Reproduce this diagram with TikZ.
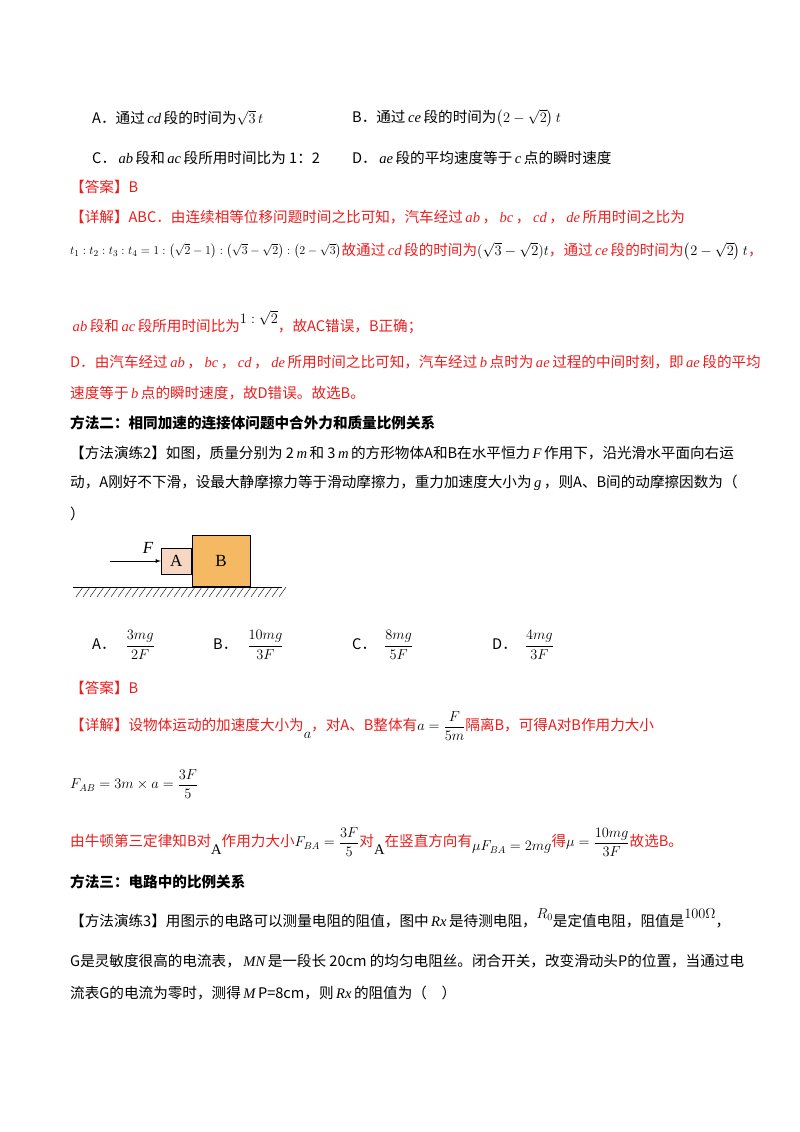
\documentclass[tikz,border=0pt]{standalone}
\usepackage{amsmath}
\usepackage{fontspec}
\setmainfont{Noto Sans CJK SC}
\newfontfamily\tnr{Liberation Serif}
\definecolor{ans}{RGB}{235,30,30}
\definecolor{boxA}{RGB}{248,214,196}
\definecolor{boxB}{RGB}{245,185,100}
\newcommand{\mi}[1]{\hspace{2.5pt}{\tnr\itshape #1}\hspace{2.5pt}}
\begin{document}
\begin{tikzpicture}[x=1pt,y=-1pt,
  tx/.style={anchor=west,inner sep=0pt,font=\fontsize{14.6}{17}\selectfont},
  rd/.style={tx,text=ans},
  bd/.style={tx,font=\fontsize{14.6}{17}\selectfont\bfseries}]
\useasboundingbox[fill=white] (0,0) rectangle (800,1132);
\node[tx] (qa) at (92,118) {A．通过\mi{cd}段的时间为$\sqrt{3}\,t$};
\node[tx] (qb) at (352,118) {B．通过\mi{ce}段的时间为$\left(2-\sqrt{2}\right)t$};
\node[tx] (qc) at (92,158) {C．\mi{ab}段和\mi{ac}段所用时间比为 1：2};
\node[tx] (qd) at (352,158) {D．\mi{ae}段的平均速度等于\mi{c}点的瞬时速度};
\node[rd] (an1) at (70,187) {【答案】B};
\node[rd] (ex1) at (70,217) {【详解】ABC．由连续相等位移问题时间之比可知，汽车经过\mi{ab}，\mi{bc}，\mi{cd}，\mi{de}所用时间之比为};
\node[tx,font=\fontsize{12.5}{14}\selectfont] (fm) at (70,251) {$t_1:t_2:t_3:t_4=1:\left(\sqrt{2}-1\right):\left(\sqrt{3}-\sqrt{2}\right):\left(2-\sqrt{3}\right)$};
\node[rd] (ex2) at (fm.east) [anchor=west] {故通过\mi{cd}段的时间为\textcolor{black}{$(\sqrt{3}-\sqrt{2})t$}，通过\mi{ce}段的时间为\textcolor{black}{$\left(2-\sqrt{2}\right)t$}，};
\node[rd] (ex3) at (70,322) {\mi{ab}段和\mi{ac}段所用时间比为\textcolor{black}{\raisebox{8pt}{$1:\sqrt{2}$}}，故AC错误，B正确；};
\node[rd] (ex4) at (70,362) {D．由汽车经过\mi{ab}，\mi{bc}，\mi{cd}，\mi{de}所用时间之比可知，汽车经过\mi{b}点时为\mi{ae}过程的中间时刻，即\mi{ae}段的平均};
\node[rd] (ex5) at (70,393) {速度等于\mi{b}点的瞬时速度，故D错误。故选B。};
\node[bd] (m2) at (70,423) {方法二：相同加速的连接体问题中合外力和质量比例关系};
\node[tx] (p21) at (70,453) {【方法演练2】如图，质量分别为 2\mi{m}和 3\mi{m}的方形物体A和B在水平恒力\mi{F}作用下，沿光滑水平面向右运};
\node[tx] (p22) at (70,483) {动，A刚好不下滑，设最大静摩擦力等于滑动摩擦力，重力加速度大小为\mi{g}，则A、B间的动摩擦因数为（};
\node[tx] (p23) at (70,514) {）};
% diagram
\draw[thick] (73,587) -- (282,587);
\foreach \i in {0,...,29} {\draw (76+7*\i,597) -- (83+7*\i,587);}
\node[draw,thick,fill=boxB,minimum width=58pt,minimum height=51pt,inner sep=0pt,font=\tnr\fontsize{17}{19}\selectfont] (bb) at (221,561) {B};
\node[draw,thick,fill=boxA,minimum width=30pt,minimum height=26pt,inner sep=0pt,anchor=east,font=\tnr\fontsize{17}{19}\selectfont] (ba) at (bb.west) {A};
\coordinate (fs) at (110,561);
\draw[thick,-latex] (fs) -- (fs -| ba.west);
\node[font=\tnr\itshape\fontsize{17}{19}\selectfont] (fl) at (148,548) {F};
% options
\node[tx] (oa) at (92,645) {A．\hspace{10pt}$\dfrac{3mg}{2F}$};
\node[tx] (ob) at (213,645) {B．\hspace{10pt}$\dfrac{10mg}{3F}$};
\node[tx] (oc) at (352,645) {C．\hspace{8pt}$\dfrac{8mg}{5F}$};
\node[tx] (od) at (492,645) {D．\hspace{8pt}$\dfrac{4mg}{3F}$};
\node[rd] (an2) at (70,688) {【答案】B};
\node[rd] (ex6) at (70,726) {【详解】设物体运动的加速度大小为\textcolor{black}{\raisebox{-8pt}{$a$}}，对A、B整体有\textcolor{black}{$a=\dfrac{F}{5m}$}隔离B，可得A对B作用力大小};
\node[tx] (fab) at (70,784) {$F_{AB}=3m\times a=\dfrac{3F}{5}$};
\node[rd] (ex7) at (70,842) {由牛顿第三定律知B对\textcolor{black}{\raisebox{-8pt}{\tnr A}}作用力大小\textcolor{black}{$F_{BA}=\dfrac{3F}{5}$}对\textcolor{black}{\raisebox{-8pt}{\tnr A}}在竖直方向有\textcolor{black}{\raisebox{-4pt}{$\mu F_{BA}=2mg$}}得\textcolor{black}{$\mu=\dfrac{10mg}{3F}$}故选B。};
\node[bd] (m3) at (70,882) {方法三：电路中的比例关系};
\node[tx] (p31) at (70,918) {【方法演练3】用图示的电路可以测量电阻的阻值，图中\mi{Rx}是待测电阻，\raisebox{8pt}{$R_0$}是定值电阻，阻值是\raisebox{8pt}{$100\Omega$}，};
\node[tx] (p32) at (70,961) {G是灵敏度很高的电流表，\mi{MN}是一段长 20cm 的均匀电阻丝。闭合开关，改变滑动头P的位置，当通过电};
\node[tx] (p33) at (70,993) {流表G的电流为零时，测得\mi{M}P=8cm，则\mi{Rx}的阻值为（\quad）};
\end{tikzpicture}
\end{document}
